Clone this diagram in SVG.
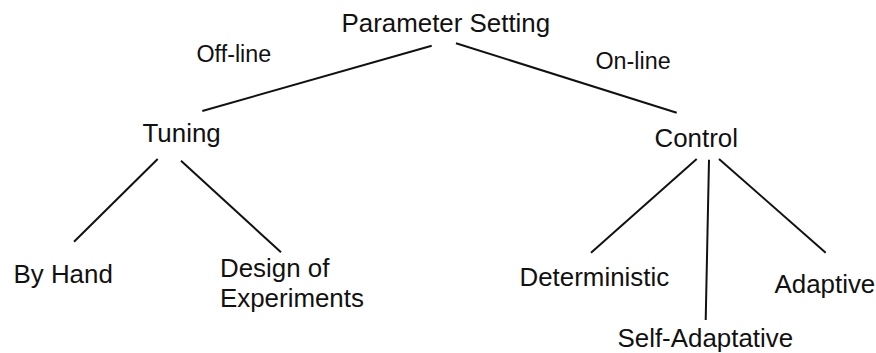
<svg xmlns="http://www.w3.org/2000/svg" width="876" height="353" viewBox="0 0 876 353">
<style>
.n{font-family:"Liberation Sans",Arial,Helvetica,sans-serif;font-size:25.9px;fill:#111}
.l{font-family:"Liberation Sans",Arial,Helvetica,sans-serif;font-size:23.3px;fill:#111}
.c line{stroke:#111;stroke-width:2;stroke-linecap:butt}
</style>
<rect width="876" height="353" fill="#fff"/>
<g class="c" id="connectors">
<line x1="431.7" y1="45.7" x2="202.3" y2="111"/>
<line x1="456" y1="43.3" x2="676.7" y2="112.7"/>
<line x1="157.7" y1="159" x2="74" y2="241.7"/>
<line x1="181" y1="160.7" x2="281" y2="252.3"/>
<line x1="696.7" y1="159" x2="591" y2="252.7"/>
<line x1="709" y1="159.7" x2="705.7" y2="320"/>
<line x1="719" y1="159" x2="825.7" y2="252.7"/>
</g>
<g id="labels">
<text class="l" x="196.5" y="62.3">Off-line</text>
<text class="l" x="595.5" y="69.3">On-line</text>
</g>
<g id="parameter-setting"><text class="n" x="341.5" y="31.7">Parameter Setting</text></g>
<g id="tuning"><text class="n" x="142.5" y="141.7">Tuning</text></g>
<g id="control"><text class="n" x="654.5" y="146.7">Control</text></g>
<g id="by-hand"><text class="n" x="13.5" y="283.3">By Hand</text></g>
<g id="design-of-experiments"><text class="n" x="220" y="276.7">Design of</text><text class="n" x="220" y="306.7">Experiments</text></g>
<g id="deterministic"><text class="n" x="519.5" y="285.7">Deterministic</text></g>
<g id="adaptive"><text class="n" x="774.5" y="293.3">Adaptive</text></g>
<g id="self-adaptative"><text class="n" x="617.5" y="347">Self-Adaptative</text></g>
</svg>
